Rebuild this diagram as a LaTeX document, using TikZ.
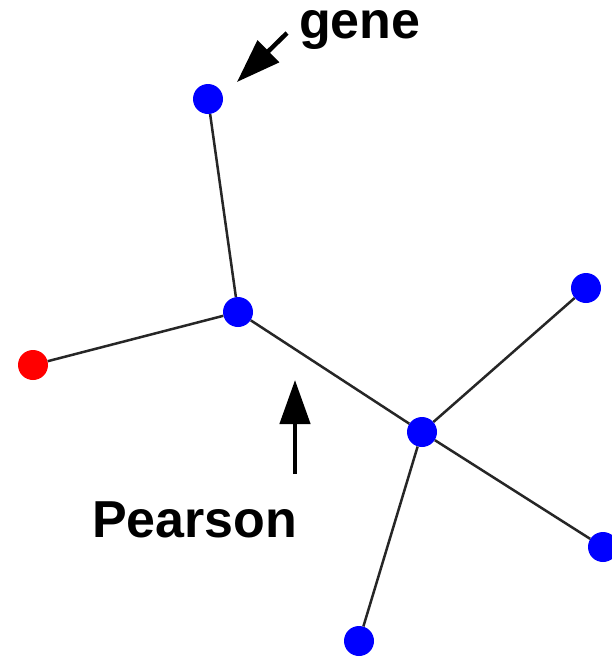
\documentclass[tikz,border=0pt]{standalone}
\usepackage{fontspec}
\setmainfont{Liberation Sans}
\usetikzlibrary{arrows.meta}
\begin{document}
\begin{tikzpicture}[x=1pt,y=-1pt,
  gnode/.style={circle,fill=blue,draw=none,minimum size=30pt,inner sep=0pt},
  rnode/.style={gnode,fill=red},
  link/.style={line width=2.5pt,draw=black!85},
  pointer/.style={line width=4.5pt,-{Triangle[length=44pt,width=30pt]}},
  caption/.style={anchor=base west,inner sep=0pt,font=\fontsize{52}{62}\selectfont\bfseries}]
  \fill[white] (0,0) rectangle (611,659);
  \useasboundingbox (0,0) rectangle (611,659);
  % tree nodes
  \node[gnode] (top) at (208,99) {};
  \node[gnode] (hub) at (238,312) {};
  \node[rnode] (leaf) at (33,365) {};
  \node[gnode] (mid) at (422,432) {};
  \node[gnode] (ne) at (586,288) {};
  \node[gnode] (se) at (603,547) {};
  \node[gnode] (bot) at (359,641) {};
  % tree edges
  \draw[link] (top) -- (hub);
  \draw[link] (leaf) -- (hub);
  \draw[link] (hub) -- (mid);
  \draw[link] (mid) -- (ne);
  \draw[link] (mid) -- (se);
  \draw[link] (mid) -- (bot);
  % labels with pointers
  \node[caption] (genelbl) at (299,38) {gene};
  \node[caption] (pearsonlbl) at (92,537) {Pearson};
  \coordinate (gtail) at (287,33);
  \coordinate (gtip) at (237,82);
  \coordinate (ptail) at (295,474);
  \coordinate (ptip) at (295,380);
  \draw[pointer] (gtail) -- (gtip);
  \draw[pointer] (ptail) -- (ptip);
\end{tikzpicture}
\end{document}
